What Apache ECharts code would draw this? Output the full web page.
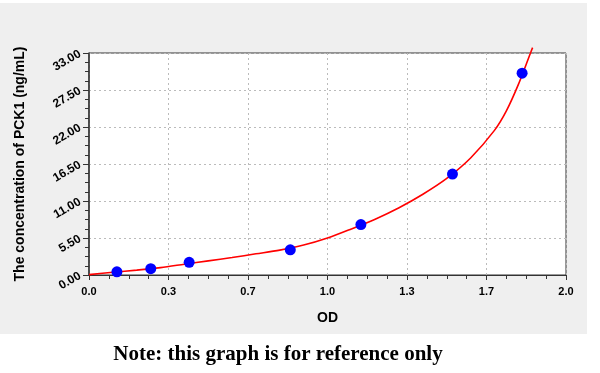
<!DOCTYPE html>
<html>
<head>
<meta charset="utf-8">
<script src="https://cdn.jsdelivr.net/npm/echarts@6/dist/echarts.min.js"></script>
<style>
html,body{margin:0;padding:0;background:#ffffff;}
#chart{width:600px;height:373px;}
</style>
</head>
<body>
<div id="chart"></div>
<script>
// Standard points (OD, concentration)
var pointOD = [0.117, 0.259, 0.420, 0.844, 1.140, 1.524, 1.816];
var pointConc = [0.47, 0.94, 1.88, 3.75, 7.5, 15, 30];

// Fitted curve at regular OD steps
var curveOD = [0, 0.1, 0.2, 0.3, 0.4, 0.5, 0.6, 0.7, 0.8, 0.9, 1.0, 1.1, 1.2, 1.3, 1.4, 1.5, 1.6, 1.7, 1.75, 1.8, 1.85, 1.86];
var curveConc = [0.05, 0.40, 0.72, 1.10, 1.60, 2.10, 2.60, 3.15, 3.70, 4.45, 5.50, 6.85, 8.30, 10.00, 12.00, 14.35, 17.40, 21.50, 24.40, 28.30, 32.90, 33.80];

var xAxisTitle = 'OD';
var yAxisTitle = 'The concentration of PCK1 (ng/mL)';
var noteText = 'Note: this graph is for reference only';

var chart = echarts.init(document.getElementById('chart'), null, {renderer: 'canvas'});

var points = pointOD.map(function (x, i) { return [x, pointConc[i]]; });
var curve = curveOD.map(function (x, i) { return [x, curveConc[i]]; });

var option = {
  animation: false,
  backgroundColor: '#ffffff',
  graphic: [
    {
      type: 'rect', z: -10, silent: true,
      shape: {x: 0, y: 3, width: 587, height: 331},
      style: {fill: '#efefef'}
    },
    {
      type: 'text', x: 278, y: 355,
      style: {
        text: noteText,
        textAlign: 'center', textVerticalAlign: 'middle',
        font: 'bold 21px "Liberation Serif", "DejaVu Serif", serif',
        fill: '#000000'
      }
    }
  ],
  grid: {
    left: 89, right: 34, top: 53, bottom: 98,
    show: true, backgroundColor: '#ffffff', borderColor: '#333333', borderWidth: 1
  },
  xAxis: {
    type: 'value', min: 0, max: 2, interval: 1/3,
    name: xAxisTitle, nameLocation: 'middle', nameGap: 36,
    nameTextStyle: {fontFamily: 'Liberation Sans, Arial, sans-serif', fontWeight: 'bold', fontSize: 14, color: '#000'},
    axisLine: {show: true, onZero: false, lineStyle: {color: '#333333', width: 1}},
    axisTick: {show: true, inside: false, length: 5, lineStyle: {color: '#333333'}},
    minorTick: {show: true, splitNumber: 4, length: 4, lineStyle: {color: '#333333'}},
    axisLabel: {
      margin: 11, color: '#000', fontFamily: 'Liberation Sans, Arial, sans-serif', fontWeight: 'bold', fontSize: 11,
      formatter: function (v) { return v.toFixed(1); }
    },
    splitLine: {show: true, lineStyle: {color: '#bbbbbb', type: [2, 3], width: 1}}
  },
  yAxis: {
    type: 'value', min: 0, max: 33, interval: 5.5,
    name: yAxisTitle, nameLocation: 'middle', nameGap: 62, nameRotate: 90,
    nameTextStyle: {fontFamily: 'Liberation Sans, Arial, sans-serif', fontWeight: 'bold', fontSize: 14, color: '#000'},
    axisLine: {show: true, onZero: false, lineStyle: {color: '#333333', width: 1.5}},
    axisTick: {show: true, inside: false, length: 6, lineStyle: {color: '#333333'}},
    minorTick: {show: true, splitNumber: 4, length: 4, lineStyle: {color: '#333333'}},
    axisLabel: {
      margin: 9, rotate: 30, color: '#000', fontFamily: 'Liberation Sans, Arial, sans-serif', fontWeight: 'bold', fontSize: 12,
      formatter: function (v) { return v.toFixed(2); }
    },
    splitLine: {show: true, lineStyle: {color: '#bbbbbb', type: [2, 3], width: 1}}
  },
  series: [
    {
      type: 'line', data: curve, smooth: 0.3, clip: false,
      showSymbol: false, symbol: 'none', z: 3,
      lineStyle: {color: '#ff0000', width: 1.6}
    },
    {
      type: 'scatter', data: points, symbol: 'circle', symbolSize: 11, z: 4,
      itemStyle: {color: '#0000ff', opacity: 1}
    }
  ]
};
chart.setOption(option);
</script>
</body>
</html>
